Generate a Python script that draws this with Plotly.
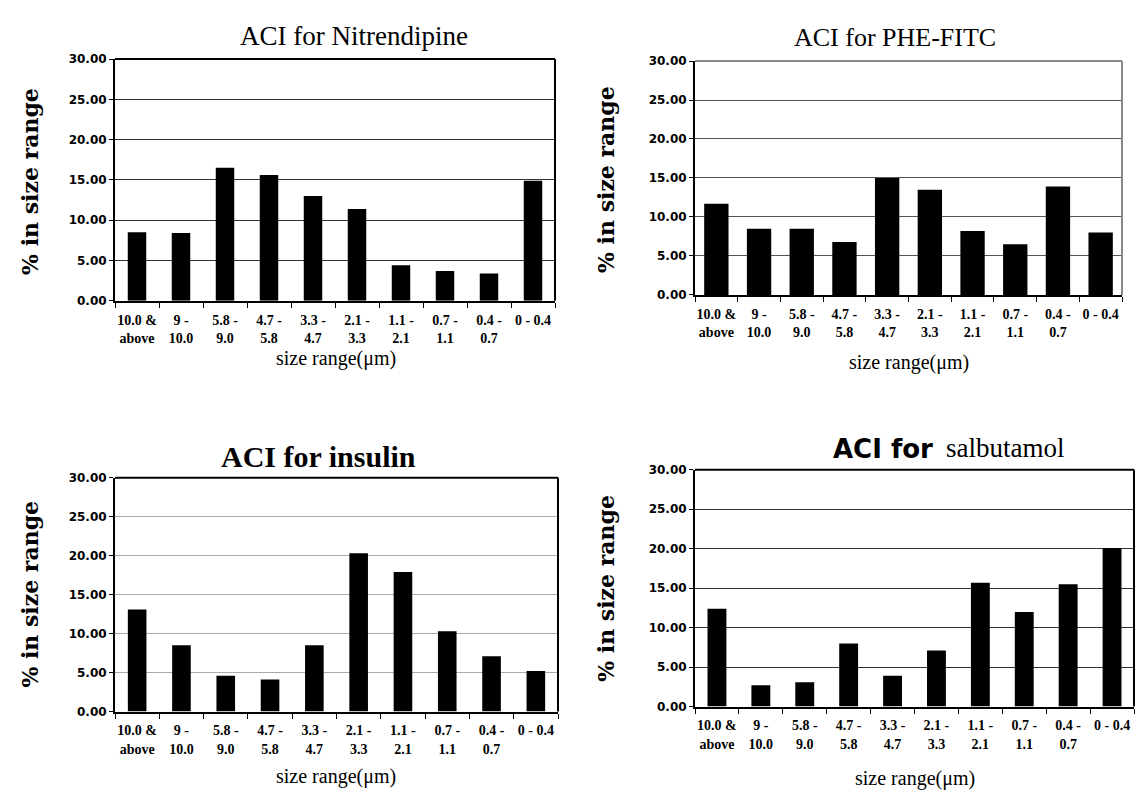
import plotly.graph_objects as go

W, H = 1143, 805

categories = ["10.0 &<br>above", "9 -<br>10.0", "5.8 -<br>9.0", "4.7 -<br>5.8", "3.3 -<br>4.7",
              "2.1 -<br>3.3", "1.1 -<br>2.1", "0.7 -<br>1.1", "0.4 -<br>0.7", "0 - 0.4"]

nitrendipine = [8.5, 8.4, 16.5, 15.6, 13.0, 11.4, 4.4, 3.7, 3.4, 14.9]
phe_fitc = [11.7, 8.5, 8.5, 6.8, 15.0, 13.5, 8.2, 6.5, 13.9, 8.0]
insulin = [13.1, 8.5, 4.6, 4.1, 8.5, 20.3, 17.9, 10.3, 7.1, 5.2]
salbutamol = [12.4, 2.7, 3.1, 8.0, 3.9, 7.1, 15.7, 12.0, 15.5, 20.1]

y_ticks = [0, 5, 10, 15, 20, 25, 30]
y_title = "% in size range"
x_title = "size range(\u03bcm)"

# panel pixel boxes: left, right, top, bottom
panels = [
    dict(vals=nitrendipine, box=(115, 555, 53, 299), bw=0.42, grid="#333", frame="black"),
    dict(vals=phe_fitc, box=(695, 1122, 55, 293), bw=0.57, grid="#555", frame="#8a8a8a"),
    dict(vals=insulin, box=(115, 558, 479, 717), bw=0.42, grid="#aaa", frame="black"),
    dict(vals=salbutamol, box=(695, 1134, 471, 712), bw=0.43, grid="#333", frame="black"),
]

fig = go.Figure()
shapes = []
annotations = []

for i, p in enumerate(panels, start=1):
    l, r, t, b = p["box"]
    xs = "" if i == 1 else str(i)
    fig.add_trace(go.Bar(x=categories, y=p["vals"], xaxis="x" + xs, yaxis="y" + xs,
                         width=p["bw"], marker=dict(color="black", line=dict(width=0)),
                         showlegend=False))
    fig.layout["xaxis" + xs] = dict(
        domain=[l / W, r / W], anchor="y" + xs, type="category",
        tickson="boundaries", ticks="outside", ticklen=5, tickcolor="black", tickwidth=1,
        showline=True, linecolor="black", linewidth=2, showgrid=False,
        tickfont=dict(family="Liberation Serif", size=14, color="black", weight="bold"),
        ticklabelstandoff=5, tickangle=0, fixedrange=True,
    )
    fig.layout["yaxis" + xs] = dict(
        domain=[1 - b / H, 1 - t / H], anchor="x" + xs, range=[0, 30],
        tickvals=y_ticks, tickformat=".2f", ticks="outside", ticklen=4, tickcolor="black",
        showline=True, linecolor="black", linewidth=2, zeroline=False,
        showgrid=True, gridcolor=p["grid"], gridwidth=1,
        tickfont=dict(family="DejaVu Sans", size=12, color="black", weight="bold"),
        fixedrange=True,
    )
    # top and right frame
    shapes.append(dict(type="line", xref="x" + xs + " domain", yref="y" + xs + " domain",
                       x0=0, x1=1, y0=1, y1=1, line=dict(color=p["frame"], width=2)))
    shapes.append(dict(type="line", xref="x" + xs + " domain", yref="y" + xs + " domain",
                       x0=1, x1=1, y0=0, y1=1, line=dict(color=p["frame"], width=2)))

def ann(text, x, y, font, size, bold=False, xanchor="center", angle=0):
    annotations.append(dict(text=("<b>%s</b>" % text) if bold else text, x=x / W, y=1 - y / H,
                            xref="paper", yref="paper", showarrow=False, xanchor=xanchor,
                            yanchor="middle", textangle=angle,
                            font=dict(family=font, size=size, color="black")))

# titles
ann("ACI for Nitrendipine", 354, 30, "Liberation Serif", 27)
ann("ACI for PHE-FITC", 895, 31, "Liberation Serif", 26)
ann("ACI for insulin", 318, 457, "Liberation Serif", 30, bold=True)
ann("ACI for", 935, 450, "DejaVu Sans", 26, bold=True, xanchor="right")
ann("salbutamol", 944, 449, "Liberation Serif", 27, xanchor="left")

# y titles
for x, y in [(30, 178), (606, 176), (30, 598), (606, 592)]:
    ann(y_title, x, y, "DejaVu Serif", 22, bold=True, angle=-90)

# x titles
for x, y in [(336, 358), (909, 362), (336, 783), (915, 785)]:
    ann(x_title, x, y, "Liberation Serif", 20)

fig.update_layout(width=W, height=H, margin=dict(l=0, r=0, t=0, b=0),
                  paper_bgcolor="white", plot_bgcolor="white",
                  shapes=shapes, annotations=annotations, bargap=0.5)

fig.write_html("out.html", config={"displayModeBar": False},
               post_script="document.body.style.margin='0';document.body.style.overflow='hidden';")
